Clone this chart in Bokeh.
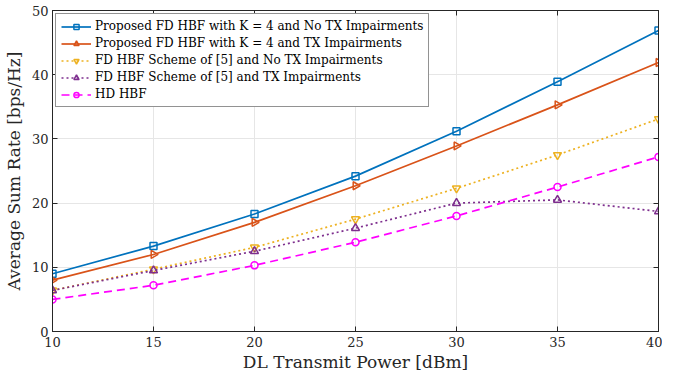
import numpy as np
from bokeh.plotting import figure
from bokeh.models import LinearAxis, Legend, LegendItem, FixedTicker, Range1d, ColumnDataSource
from bokeh.embed import file_html
from bokeh.resources import INLINE

power = [10, 15, 20, 25, 30, 35, 40]
fd_k4_noimp = [9.0, 13.3, 18.3, 24.2, 31.2, 38.9, 46.9]
fd_k4_imp = [8.0, 12.0, 17.0, 22.7, 28.9, 35.3, 41.9]
fd5_noimp = [6.4, 9.7, 13.1, 17.5, 22.3, 27.5, 33.1]
fd5_imp = [6.4, 9.5, 12.5, 16.1, 20.0, 20.5, 18.7]
hd_hbf = [5.0, 7.2, 10.3, 13.9, 18.0, 22.5, 27.2]

labels = [
    "Proposed FD HBF with K = 4 and No TX Impairments",
    "Proposed FD HBF with K = 4 and TX Impairments",
    "FD HBF Scheme of [5] and No TX Impairments",
    "FD HBF Scheme of [5] and TX Impairments",
    "HD HBF",
]
x_ticks = [10, 15, 20, 25, 30, 35, 40]
y_ticks = [0, 10, 20, 30, 40, 50]

FONT = "DejaVu Serif"
AX = "#262626"

p = figure(width=662, height=374, output_backend="svg", toolbar_location=None,
           x_range=Range1d(10, 40), y_range=Range1d(0, 50),
           min_border_left=51, min_border_right=4, min_border_top=10, min_border_bottom=30)

p.outline_line_color = AX
p.outline_line_width = 1
p.xgrid.grid_line_color = "#e6e6e6"
p.ygrid.grid_line_color = "#e6e6e6"
p.xaxis.ticker = FixedTicker(ticks=x_ticks)
p.yaxis.ticker = FixedTicker(ticks=y_ticks)
for ax in (p.xaxis[0], p.yaxis[0]):
    ax.major_tick_in = 5
    ax.major_tick_out = 0
    ax.minor_tick_line_color = None
    ax.axis_line_color = AX
    ax.major_tick_line_color = AX
    ax.major_label_text_font = FONT
    ax.major_label_text_font_size = "13px"
    ax.major_label_text_color = AX
    ax.axis_label_text_font = FONT
    ax.axis_label_text_font_size = "17px"
    ax.axis_label_text_font_style = "normal"
    ax.axis_label_text_color = AX
p.xaxis.axis_label = "DL Transmit Power [dBm]"
p.yaxis.axis_label = "Average Sum Rate [bps/Hz]"
p.xaxis.major_label_standoff = 5
p.xaxis.axis_label_standoff = 2
p.yaxis.major_label_standoff = 4
p.yaxis.axis_label_standoff = 5

right = LinearAxis(ticker=FixedTicker(ticks=y_ticks), major_tick_in=5, major_tick_out=0,
                   minor_tick_line_color=None, major_label_overrides={t: "" for t in y_ticks},
                   major_label_standoff=0,
                   axis_line_color=AX, major_tick_line_color=AX)
p.add_layout(right, "right")
top = LinearAxis(ticker=FixedTicker(ticks=x_ticks), major_tick_in=5, major_tick_out=0,
                 minor_tick_line_color=None, major_label_overrides={t: "" for t in x_ticks},
                 major_label_standoff=0,
                 axis_line_color=AX, major_tick_line_color=AX)
p.add_layout(top, "above")

series = [
    (fd_k4_noimp, "#0072BD", "solid", "square", 0.0, 7),
    (fd_k4_imp, "#D95319", "solid", "triangle", -np.pi / 2, 8),
    (fd5_noimp, "#EDB120", "2 3", "inverted_triangle", 0.0, 8),
    (fd5_imp, "#7E2F8E", "2 3", "triangle", 0.0, 8),
    (hd_hbf, "#FF00FF", "8 5", "circle", 0.0, 7),
]

items = []
for (ys, col, dash, mk, ang, sz), lab in zip(series, labels):
    src = ColumnDataSource(dict(x=power, y=ys, a=[ang] * len(power)))
    r1 = p.line("x", "y", source=src, line_color=col, line_width=1.7, line_dash=dash)
    r2 = p.scatter("x", "y", source=src, marker=mk, angle="a", size=sz, line_color=col,
                   line_width=1.5, fill_color="white", fill_alpha=0.0)
    items.append(LegendItem(label=lab, renderers=[r1, r2], index=0))

legend = Legend(items=items, location="top_left")
legend.label_text_font = FONT
legend.label_text_font_size = "12px"
legend.label_text_color = "#000000"
legend.label_height = 13
legend.glyph_height = 13
legend.glyph_width = 30
legend.spacing = 3
legend.padding = 5
legend.margin = 3
legend.label_standoff = 4
legend.border_line_color = AX
legend.border_line_width = 1
legend.background_fill_alpha = 1.0
p.add_layout(legend, "center")

open("out.html", "w").write(file_html(p, INLINE))
